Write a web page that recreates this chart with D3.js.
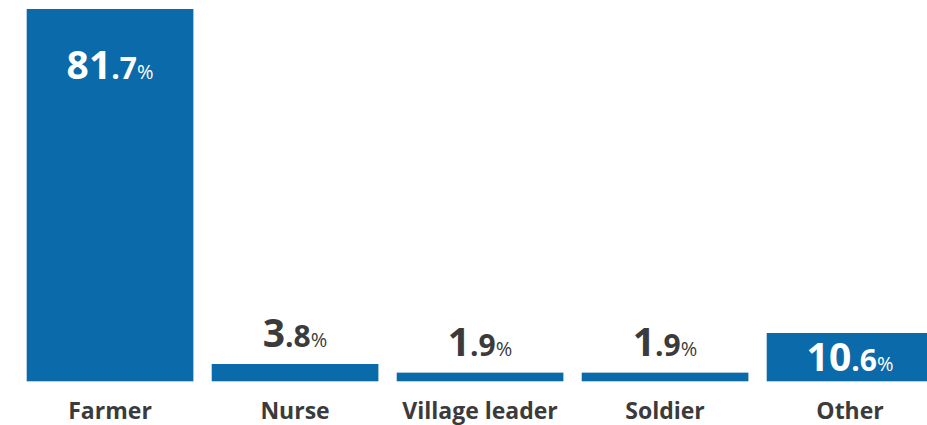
<!DOCTYPE html>
<html><head><meta charset="utf-8">
<script src="https://cdn.jsdelivr.net/npm/d3@7"></script>
<style>html,body{margin:0;padding:0;background:#fff;}svg{display:block;}</style>
</head><body>
<script>
const categories = ["Farmer", "Nurse", "Village leader", "Soldier", "Other"];
const values = [81.7, 3.8, 1.9, 1.9, 10.6];

const W = 927, H = 425;
const baseline = 381.3;
const svg = d3.select("body").append("svg").attr("width", W).attr("height", H);

const x = d3.scaleBand().domain(categories).range([26.7, 933.4]).paddingInner(0.099).paddingOuter(0);
const y = d3.scaleLinear().domain([0, 81.7]).range([baseline, 9]);

const blue = "#0b6aa9", grey = "#3b3b3b";
const font = "'Open Sans', sans-serif";

const data = categories.map((c, i) => ({c, v: values[i]}));

svg.selectAll("rect.bar").data(data).join("rect")
  .attr("class", "bar")
  .attr("x", d => x(d.c)).attr("width", x.bandwidth())
  .attr("y", d => y(d.v)).attr("height", d => baseline - y(d.v))
  .attr("fill", blue);

const inside = d => d.v > 5;
const labels = svg.selectAll("text.val").data(data).join("text")
  .attr("class", "val")
  .attr("text-anchor", "middle")
  .attr("x", d => x(d.c) + x.bandwidth() / 2)
  .attr("y", d => {
    if (inside(d)) {
      const top = y(d.v);
      return Math.min(top + 70, (top + baseline) / 2 + 13.5);
    }
    return y(d.v) - 16.5;
  })
  .attr("fill", d => inside(d) ? "#fff" : grey)
  .style("font-family", font);

labels.each(function(d) {
  const parts = d.v.toFixed(1).split(".");
  const t = d3.select(this);
  t.append("tspan").text(parts[0]).style("font-size", "39px").style("font-weight", 700);
  t.append("tspan").text("." + parts[1]).style("font-size", "30px").style("font-weight", 700);
  t.append("tspan").text("%").style("font-size", "20px").style("font-weight", 400);
});

svg.selectAll("text.cat").data(data).join("text")
  .attr("class", "cat")
  .attr("text-anchor", "middle")
  .attr("x", d => x(d.c) + x.bandwidth() / 2)
  .attr("y", 418.5)
  .attr("fill", grey)
  .style("font-family", font)
  .style("font-size", "23px")
  .style("font-weight", 700)
  .text(d => d.c);
</script>
</body></html>
